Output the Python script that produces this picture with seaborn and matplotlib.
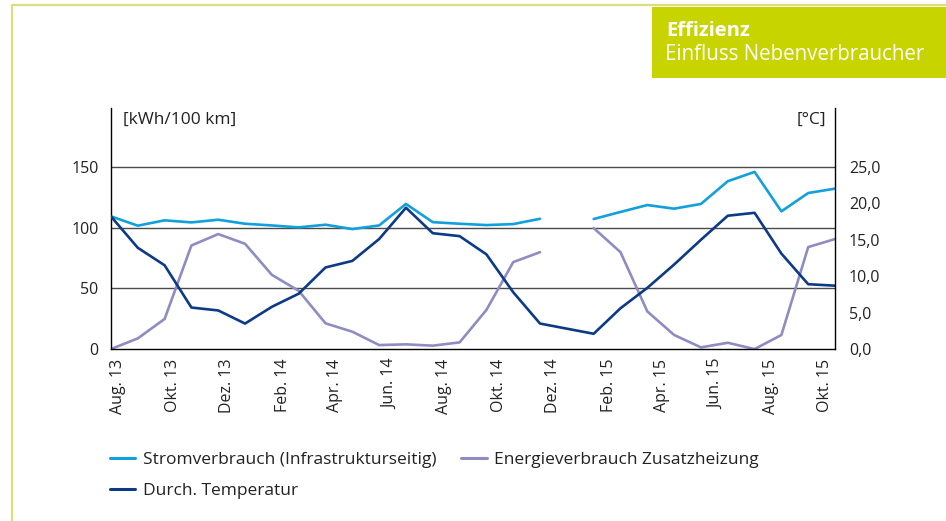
import numpy as np
import pandas as pd
import matplotlib
matplotlib.use("Agg")
import matplotlib.pyplot as plt
from matplotlib.lines import Line2D
from matplotlib.patches import Rectangle
import seaborn as sns

# Messpunkte (ca. alle 30 Tage), Index 17 fehlt
start = "2013-07-24"
n_points = 28
strom = [109.3, 101.6, 106.0, 104.3, 106.5, 103.2, 101.8, 100.2, 102.4, 98.8,
         101.8, 119.5, 104.5, 103.2, 102.1, 102.9, 107.3, np.nan, 107.1, 112.9,
         118.6, 115.6, 119.5, 138.2, 145.9, 113.4, 128.5, 132.1]
heizung = [0.0, 8.8, 24.8, 85.3, 94.7, 86.7, 61.1, 48.0, 21.2, 14.3,
           3.3, 3.9, 2.8, 5.5, 32.2, 71.6, 79.8, np.nan, 99.6, 79.8,
           31.0, 11.6, 1.4, 5.2, 0.0, 11.6, 84.0, 90.6]
temperatur = [18.2, 13.9, 11.5, 5.7, 5.3, 3.5, 5.8, 7.6, 11.2, 12.1,
              15.1, 19.4, 15.9, 15.5, 13.0, 7.8, 3.5, np.nan, 2.1, 5.6,
              8.4, 11.6, 15.0, 18.3, 18.7, 13.1, 8.9, 8.7]

x_labels = ["Aug. 13", "Okt. 13", "Dez. 13", "Feb. 14", "Apr. 14", "Jun. 14",
            "Aug. 14", "Okt. 14", "Dez. 14", "Feb. 15", "Apr. 15", "Jun. 15",
            "Aug. 15", "Okt. 15"]
left_ticks = [0, 50, 100, 150]
right_ticks = [0, 5, 10, 15, 20, 25]

labels = ["Stromverbrauch (Infrastrukturseitig)", "Durch. Temperatur",
          "Energieverbrauch Zusatzheizung"]
c_strom = "#12a0dc"
c_temp = "#0d3a86"
c_heiz = "#8f8cc2"

datum = pd.date_range(start, periods=n_points, freq="30D")
df = pd.DataFrame({"datum": datum, "strom": strom, "heizung": heizung,
                   "temperatur": temperatur})
# Segmente fuer die Luecke
df["seg"] = df["strom"].isna().cumsum()

sns.set_style("white")
plt.rcParams["font.family"] = ["Open Sans", "DejaVu Sans"]

fig = plt.figure(figsize=(9.46, 5.21), dpi=100)
ax = fig.add_axes([0.1173, 0.330, 0.7654, 0.4627])
ax2 = ax.twinx()

d = df.dropna(subset=["strom"])
sns.lineplot(data=d, x="datum", y="strom", units="seg", estimator=None,
             color=c_strom, lw=1.9, ax=ax)
d = df.dropna(subset=["heizung"])
sns.lineplot(data=d, x="datum", y="heizung", units="seg", estimator=None,
             color=c_heiz, lw=1.9, ax=ax)
d = df.dropna(subset=["temperatur"])
sns.lineplot(data=d, x="datum", y="temperatur", color=c_temp, lw=1.9, ax=ax2)

ymax = 198.5
ax.set_ylim(0, ymax)
ax2.set_ylim(0, ymax / 6)
ax.set_xlim(datum[0], datum[-1])

ax.set_yticks(left_ticks)
ax.set_yticklabels([str(t) for t in left_ticks])
ax2.set_yticks(right_ticks)
ax2.set_yticklabels([f"{t:.1f}".replace(".", ",") for t in right_ticks])

xt = pd.date_range("2013-08-01", periods=len(x_labels), freq="2MS")
ax.set_xticks(xt)
ax.set_xticklabels(x_labels, rotation=90)

for g in left_ticks[1:]:
    ax.axhline(g, color="#4a4a4a", lw=1.0, zorder=0)

ax.set_xlabel("")
ax.set_ylabel("")
ax2.set_ylabel("")
for a in (ax, ax2):
    for s in a.spines.values():
        s.set_color("black")
        s.set_linewidth(1.0)
    a.spines["top"].set_visible(False)
ax.spines["right"].set_visible(False)
ax2.spines["left"].set_visible(False)
ax2.spines["bottom"].set_visible(False)

ax.tick_params(axis="y", length=0, pad=9, labelsize=11.5, labelcolor="#222222")
ax.tick_params(axis="x", length=0, pad=7, labelsize=11.5, labelcolor="#222222")
ax2.tick_params(axis="y", length=0, pad=10, labelsize=11.5, labelcolor="#222222")

ax.text(0.016, 0.985, "[kWh/100 km]", transform=ax.transAxes, ha="left",
        va="top", fontsize=12.5, color="#222222")
ax.text(0.988, 0.985, "[°C]", transform=ax.transAxes, ha="right",
        va="top", fontsize=12.5, color="#222222")

if ax.get_legend():
    ax.get_legend().remove()
if ax2.get_legend():
    ax2.get_legend().remove()

handles = [Line2D([], [], color=c_strom, lw=2.2),
           Line2D([], [], color=c_temp, lw=2.2),
           Line2D([], [], color=c_heiz, lw=2.2)]
fig.legend(handles, labels, loc="upper left", bbox_to_anchor=(0.116, 0.133),
           ncol=2, frameon=False, fontsize=12.5, handlelength=1.45,
           handletextpad=0.45, columnspacing=1.45, labelspacing=0.85,
           borderpad=0, borderaxespad=0, labelcolor="#222222")

# Rahmen und Kopfbox
green = "#c8d400"
fig.add_artist(Line2D([12 / 946, 1], [1 - 5 / 521, 1 - 5 / 521],
                      transform=fig.transFigure, color="#d9df7a", lw=1.6))
fig.add_artist(Line2D([12 / 946, 12 / 946], [0, 1 - 5 / 521],
                      transform=fig.transFigure, color="#d9df7a", lw=1.6))
fig.add_artist(Rectangle((652 / 946, 1 - 78 / 521), 294 / 946, 71 / 521,
                         transform=fig.transFigure, color=green, lw=0))
fig.text(666 / 946, 1 - 31 / 521, "Effizienz", color="white", fontsize=14.5,
         fontweight="bold", va="center", ha="left")
fig.text(665 / 946, 1 - 55 / 521, "Einfluss Nebenverbraucher", color="white",
         fontsize=14.8, va="center", ha="left")

fig.savefig("out.png", dpi=100, facecolor="white")
